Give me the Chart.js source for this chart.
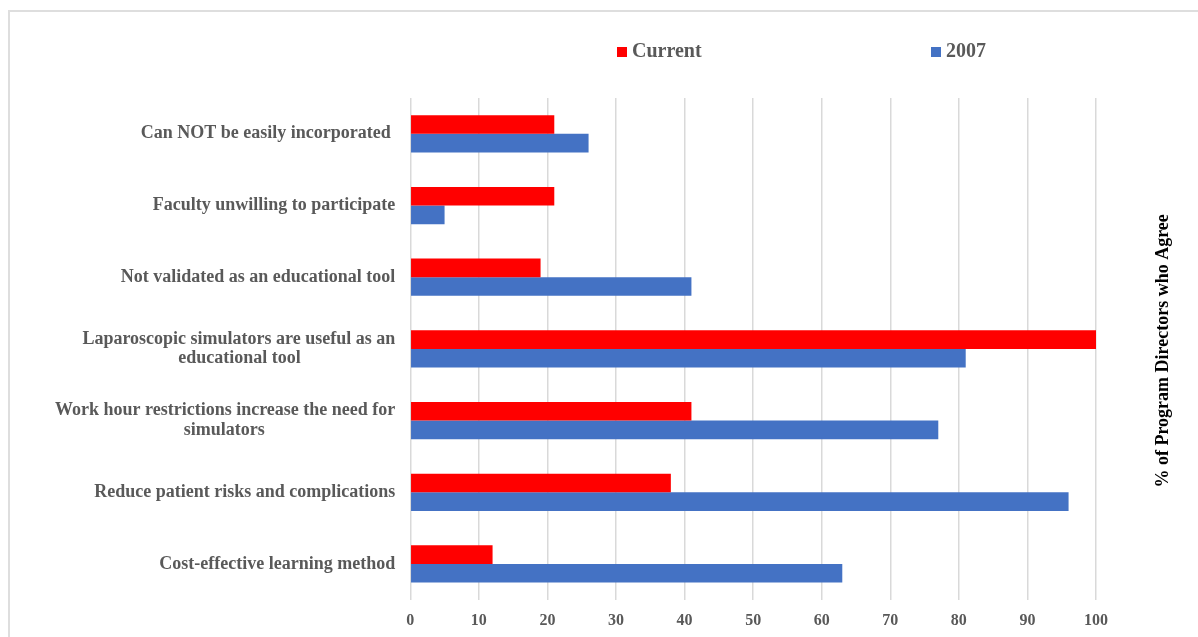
<!DOCTYPE html>
<html>
<head>
<meta charset="utf-8">
<title>Laparoscopic simulators – program director opinions</title>
<script src="https://cdn.jsdelivr.net/npm/chart.js@4/dist/chart.umd.min.js"></script>
<style>
  html, body { margin: 0; padding: 0; background: #fff; overflow: hidden; }
  #frame { position: absolute; left: 8px; top: 10px; width: 1300px; height: 700px;
           border: 2px solid #dedede; box-sizing: border-box; }
  /* canvas a bit taller than the window: the original is cropped at the bottom */
  #wrap { position: absolute; left: 0; top: 0; width: 1198px; height: 650px; }
</style>
</head>
<body>
<div id="frame"></div>
<div id="wrap"><canvas id="chart"></canvas></div>
<script>
/* ---- data ---- */
var CATEGORIES = [
  ['Can NOT be easily incorporated '],
  ['Faculty unwilling to participate'],
  ['Not validated as an educational tool'],
  ['Laparoscopic simulators are useful as an', 'educational tool'],
  ['Work hour restrictions increase the need for', 'simulators'],
  ['Reduce patient risks and complications'],
  ['Cost-effective learning method']
];
var SERIES_NAMES = ['Current', '2007'];
var CURRENT = [21, 21, 19, 100, 41, 38, 12];
var Y2007   = [26, 5, 41, 81, 77, 96, 63];
var X_TICKS = [0, 10, 20, 30, 40, 50, 60, 70, 80, 90, 100];
var AXIS_TITLE = '% of Program Directors who Agree';

/* ---- look ---- */
var SERIF = '"Liberation Serif", "Times New Roman", serif';
var TEXT = '#595959';
var RED = '#ff0000';
var BLUE = '#4472c4';
var LABEL_FONT = { family: SERIF, size: 18, weight: 'bold', lineHeight: 1.1 };
var LEGEND_X = [617, 931];   // left edge of each legend marker
var LEGEND_Y = 51;

// Excel centres the lines of a wrapped label inside its block, the block itself
// sits right-aligned against the axis. Pad short lines with trailing spaces.
var measure = document.createElement('canvas').getContext('2d');
measure.font = 'bold 18px ' + SERIF;
function centreLines(lines) {
  if (lines.length < 2) return lines.length === 1 ? lines[0] : lines;
  var widths = lines.map(function (l) { return measure.measureText(l).width; });
  var max = Math.max.apply(null, widths);
  var sp = measure.measureText(' ').width;
  return lines.map(function (l, i) {
    var n = Math.round((max - widths[i]) / 2 / sp);
    return l + new Array(n + 1).join(' ');
  });
}
var labels = CATEGORIES.map(centreLines);

/* legend drawn by hand: the two items are far apart in the original */
var legendPlugin = {
  id: 'wideLegend',
  afterDraw: function (chart) {
    var ctx = chart.ctx;
    ctx.save();
    ctx.font = 'bold 20px ' + SERIF;
    ctx.textBaseline = 'middle';
    chart.data.datasets.forEach(function (ds, i) {
      ctx.fillStyle = ds.backgroundColor;
      ctx.fillRect(LEGEND_X[i], LEGEND_Y - 4, 10, 10);
      ctx.fillStyle = TEXT;
      ctx.fillText(ds.label, LEGEND_X[i] + 15, LEGEND_Y + 1);
    });
    ctx.restore();
  }
};

/* rotated title at the right, reading bottom to top */
var sideTitlePlugin = {
  id: 'sideTitle',
  afterDraw: function (chart) {
    var a = chart.chartArea, ctx = chart.ctx;
    ctx.save();
    ctx.translate(a.right + 67, (a.top + a.bottom) / 2 + 2);
    ctx.rotate(-Math.PI / 2);
    ctx.font = 'bold 18px ' + SERIF;
    ctx.fillStyle = '#000';
    ctx.textAlign = 'center';
    ctx.textBaseline = 'middle';
    ctx.fillText(AXIS_TITLE, 0, 0);
    ctx.restore();
  }
};

new Chart(document.getElementById('chart').getContext('2d'), {
  type: 'bar',
  data: {
    labels: labels,
    datasets: [
      { label: SERIES_NAMES[0], data: CURRENT, backgroundColor: RED },
      { label: SERIES_NAMES[1], data: Y2007, backgroundColor: BLUE }
    ]
  },
  options: {
    indexAxis: 'y',
    responsive: true, maintainAspectRatio: false,
    animation: false,
    categoryPercentage: 0.52, barPercentage: 1.0,
    layout: { padding: { left: 40, right: 102, top: 98, bottom: 9 } },
    plugins: { legend: { display: false }, tooltip: { enabled: false } },
    scales: {
      x: {
        min: X_TICKS[0], max: X_TICKS[X_TICKS.length - 1],
        afterBuildTicks: function (s) { s.ticks = X_TICKS.map(function (v) { return { value: v }; }); },
        grid: { color: '#d9d9d9', lineWidth: 1.5, drawTicks: false },
        border: { display: false },
        ticks: { color: TEXT, padding: 11, font: { family: SERIF, size: 16, weight: 'bold' } }
      },
      y: {
        grid: { display: false, drawTicks: false },
        border: { display: false },
        ticks: { color: TEXT, padding: 15, font: LABEL_FONT, autoSkip: false }
      }
    }
  },
  plugins: [legendPlugin, sideTitlePlugin]
});
</script>
</body>
</html>
